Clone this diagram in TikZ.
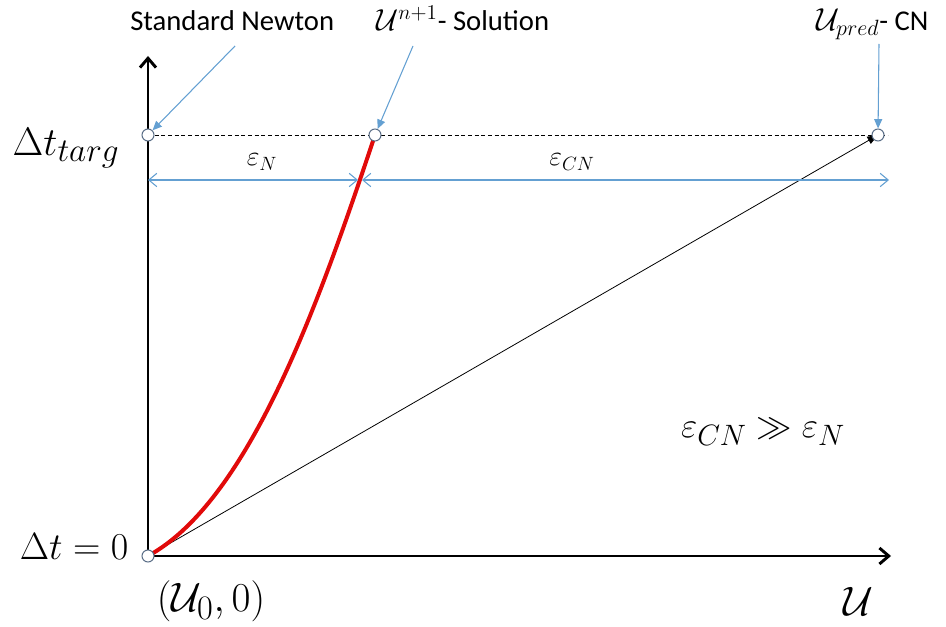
\documentclass[tikz,border=0pt]{standalone}
\usepackage{graphicx}
\usepackage{fontspec}
\setmainfont{Carlito}
\usetikzlibrary{arrows.meta}
\definecolor{callblue}{RGB}{100,160,210}
\definecolor{ptedge}{RGB}{90,110,135}
\definecolor{curvered}{RGB}{225,10,10}
\newcommand{\bigmath}[2]{\scalebox{#1}{$#2$}}
\tikzset{
  pt/.style={circle,draw=ptedge,fill=white,line width=0.8pt,minimum size=9pt,inner sep=0pt},
  axis/.style={line width=2.2pt,-{Straight Barb[length=7pt,width=12pt,line width=2.2pt]}},
  callout/.style={callblue,line width=0.8pt,-{Triangle[length=7pt,width=6pt]}},
  dim/.style={callblue,line width=0.8pt,{Straight Barb[length=6pt,width=10pt]}-{Straight Barb[length=6pt,width=10pt]}},
  txt/.style={font=\fontsize{21.5}{25}\selectfont,inner sep=0pt},
  bigm/.style={font=\fontsize{24.88}{30}\selectfont,inner sep=1pt},
  midm/.style={font=\fontsize{20.74}{24}\selectfont,inner sep=1pt}
}
\begin{document}
\begin{tikzpicture}[x=0.75pt,y=-0.75pt]
\useasboundingbox (0,0) rectangle (946,627);
% axes
\coordinate (O) at (148,556);
\coordinate (ytop) at (148,56);
\coordinate (xend) at (891,556);
\draw[axis] (O) -- (ytop);
\draw[axis] (O) -- (xend);
% dashed target line
\coordinate (dL) at (148,135);
\coordinate (dR) at (888,135);
\draw[line width=0.6pt,dash pattern=on 3pt off 2pt] (dL) -- (dR);
% thin line
\coordinate (pred) at (878,135);
\draw[line width=0.6pt,-{Triangle[length=8pt,width=6pt]}] (O) -- (pred);
% red curve
\coordinate (sol) at (375,135);
\draw[curvered,line width=3pt] (O) .. controls (250,500) and (320,300) .. (sol);
% points
\node[pt] (p0) at (O) {};
\node[pt] (pN) at (dL) {};
\node[pt] (pS) at (sol) {};
\node[pt] (pP) at (pred) {};
% dimension arrows
\coordinate (aL) at (148,180);
\coordinate (aM1) at (358,180);
\coordinate (aM2) at (362,180);
\coordinate (aR) at (889,180);
\draw[dim] (aL) -- (aM1);
\draw[dim] (aM2) -- (aR);
\node[midm] (eN) at (262,162) {$\varepsilon_N$};
\node[midm] (eCN) at (572,162) {$\varepsilon_{CN}$};
% top labels
\node[txt,anchor=base west] (lN) at (130,31) {Standard Newton};
\node[txt,anchor=base west] (lS) at (376,31) {\bigmath{1.1}{\mathcal{U}^{n+1}}- Solution};
\node[txt,anchor=base west] (lP) at (816,31) {\bigmath{1.15}{\mathcal{U}_{pred}}- CN};
\coordinate (cN) at (235,46);
\coordinate (cS) at (413,46);
\coordinate (cP) at (879,44);
\draw[callout] (cN) -- (pN);
\draw[callout] (cS) -- (pS);
\draw[callout] (cP) -- (pP);
% axis labels
\node[bigm,anchor=east] (ltarg) at (121,148) {\bigmath{1.2}{\Delta t_{targ}}};
\node[bigm,anchor=east] (lzero) at (130,547) {\bigmath{1.145}{\Delta t = 0}};
\node[bigm] (lorig) at (211,601) {\bigmath{1.24}{(\mathcal{U}_0,0)}};
\node[bigm] (lU) at (858,601) {\bigmath{1.24}{\mathcal{U}}};
\node[bigm] (lcmp) at (763,432) {\bigmath{1.065}{\varepsilon_{CN} \gg \varepsilon_N}};
\end{tikzpicture}
\end{document}
